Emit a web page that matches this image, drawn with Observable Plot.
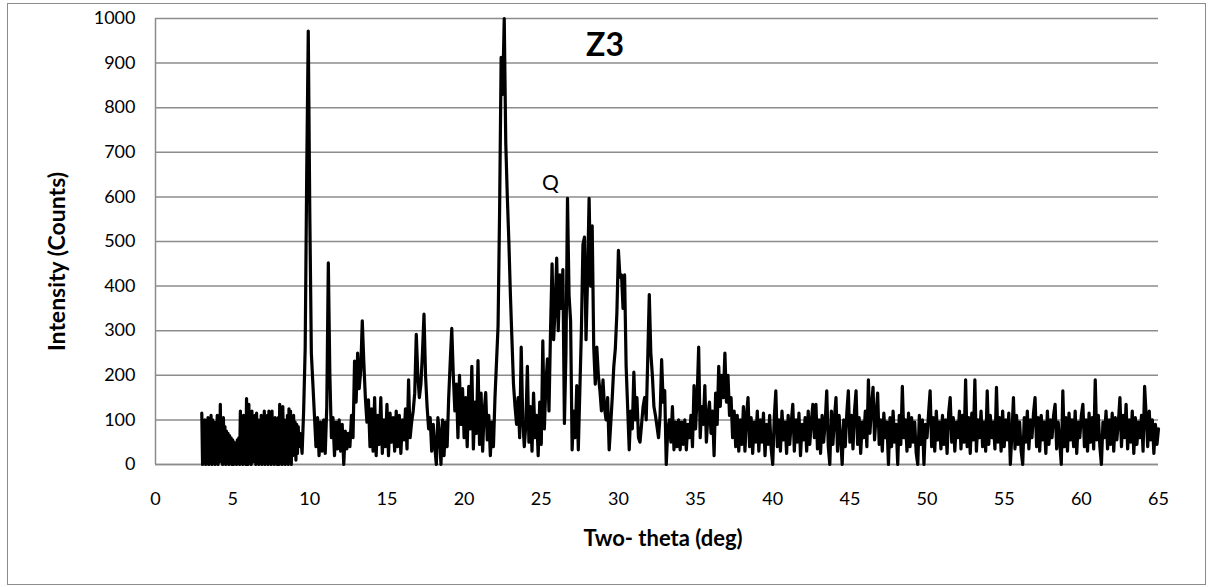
<!DOCTYPE html>
<html><head><meta charset="utf-8">
<script src="https://cdn.jsdelivr.net/npm/d3@7"></script>
<script src="https://cdn.jsdelivr.net/npm/@observablehq/plot@0.6"></script>
<style>
html,body{margin:0;padding:0;background:#fff;}
#chart{position:relative;width:1208px;height:587px;overflow:hidden;}
#border{position:absolute;left:7px;top:3px;width:1199px;height:582px;border:1.5px solid #8c8c8c;box-sizing:border-box;pointer-events:none;}
</style></head><body><div id="chart"><div id="border"></div></div>
<script>
// Low-angle segment (dense noise), two-theta 3.00 ... 9.45 deg
const lowStart = 3.0;
const lowStep = 0.05;
const lowIntensity = [
/* 3.0 */ 115,0,95,10,100,0,80,5,105,0,
/* 3.5 */ 90,15,110,0,100,20,95,0,85,10,
/* 4.0 */ 110,0,100,5,135,10,90,0,105,20,
/* 4.5 */ 85,0,75,10,70,0,65,5,60,0,
/* 5.0 */ 55,0,50,10,45,0,55,5,60,0,
/* 5.5 */ 120,10,100,0,110,15,90,0,148,20,
/* 6.0 */ 0,135,10,105,0,120,5,100,15,110,
/* 6.5 */ 0,115,10,100,0,95,20,110,0,95,
/* 7.0 */ 20,120,0,105,10,110,0,120,15,100,
/* 7.5 */ 0,120,10,90,0,105,25,95,0,105,
/* 8.0 */ 0,135,15,110,0,130,10,100,0,95,
/* 8.5 */ 15,110,0,125,10,120,0,105,20,110,
/* 9.0 */ 30,95,10,90,25,85,40,70,60,45
];
// Main segment, two-theta 9.5 ... 65.0 deg, one row per degree (x.0 ... x.9)
const mainStart = 9.5;
const mainStep = 0.1;
const intensity = [
/* 9.5*/ 25,120,260,655,972,
/*10 */ 560,250,180,110,40,105,20,95,30,100,
/*11 */ 25,130,452,200,60,105,20,95,35,100,
/*12 */ 30,90,0,75,35,70,40,110,60,232,
/*13 */ 140,250,170,210,322,230,150,95,145,40,
/*14 */ 125,30,150,20,110,45,150,25,100,40,
/*15 */ 135,20,115,50,105,30,120,40,110,25,
/*16 */ 100,55,125,35,190,60,95,120,160,292,
/*17 */ 200,150,180,250,337,200,130,80,105,30,
/*18 */ 90,40,0,105,70,0,100,20,95,40,
/*19 */ 150,230,305,200,120,180,60,200,90,170,
/*20 */ 60,150,40,175,80,220,35,140,70,233,
/*21 */ 45,160,30,120,161,55,110,20,95,40,
/*22 */ 150,230,310,570,913,830,1000,720,600,500,
/*23 */ 380,280,180,130,90,150,60,263,100,40,
/*24 */ 90,220,50,130,30,160,60,110,20,140,
/*25 */ 45,277,80,180,237,120,300,450,280,350,
/*26 */ 463,300,425,350,437,92,250,597,380,322,
/*27 */ 33,120,60,177,33,166,300,493,510,280,
/*28 */ 420,597,400,535,263,180,263,200,166,120,
/*29 */ 190,126,100,150,33,90,150,220,260,340,
/*30 */ 480,420,425,350,425,220,126,33,120,80,
/*31 */ 207,100,150,60,50,90,130,150,100,237,
/*32 */ 381,250,200,130,110,85,60,110,235,140,
/*33 */ 166,0,80,100,50,130,33,95,40,100,
/*34 */ 33,95,45,100,33,90,60,110,40,177,
/*35 */ 80,150,263,60,130,90,177,50,110,140,
/*36 */ 70,120,20,160,90,220,130,200,150,250,
/*37 */ 140,200,110,150,60,120,40,110,30,100,
/*38 */ 45,130,30,110,150,40,105,25,95,50,
/*39 */ 120,30,100,50,115,20,90,45,110,35,
/*40 */ 0,105,165,40,100,30,120,55,95,25,
/*41 */ 110,45,95,135,30,100,50,115,20,90,
/*42 */ 55,105,30,120,45,95,135,60,135,35,
/*43 */ 100,25,110,50,95,165,40,0,120,45,
/*44 */ 105,150,30,110,60,0,100,40,115,165,
/*45 */ 50,110,35,120,165,45,105,25,95,60,
/*46 */ 120,40,190,70,130,173,55,110,160,45,
/*47 */ 100,30,115,60,95,0,105,40,120,50,
/*48 */ 90,0,110,45,175,60,100,30,115,40,
/*49 */ 105,50,95,25,0,110,45,100,0,90,
/*50 */ 60,115,165,40,105,30,120,55,95,35,
/*51 */ 110,45,100,25,115,150,50,105,30,95,
/*52 */ 60,120,35,110,50,190,40,105,25,115,
/*53 */ 55,190,30,100,60,120,40,95,30,165,
/*54 */ 45,110,60,95,35,173,50,105,30,120,
/*55 */ 40,100,55,115,0,70,150,35,110,45,
/*56 */ 95,30,0,105,50,120,35,100,60,115,
/*57 */ 150,40,105,30,110,55,95,25,120,45,
/*58 */ 100,60,110,135,35,95,50,0,165,40,
/*59 */ 105,30,115,55,100,40,120,25,95,60,
/*60 */ 110,135,40,100,30,115,50,105,35,190,
/*61 */ 55,110,40,0,95,60,120,35,100,45,
/*62 */ 115,30,105,55,95,150,40,110,60,135,
/*63 */ 35,100,50,120,25,105,45,95,60,110,
/*64 */ 30,175,110,40,120,55,100,25,90,45,
/*65 */ 80
];
const xTicks = [0,5,10,15,20,25,30,35,40,45,50,55,60,65];
const yTicks = [0,100,200,300,400,500,600,700,800,900,1000];
const chartTitle = ["Z3"];
const xTitle = ["Two- theta (deg)"];
const yTitle = ["Intensity (Counts)"];
const annotations = [{t: 25.6, v: 630, label: "Q"}];

const data = [
  ...lowIntensity.map((v, i) => ({t: +(lowStart + i * lowStep).toFixed(2), v})),
  ...intensity.map((v, i) => ({t: +(mainStart + i * mainStep).toFixed(2), v}))
];

const grey = "#8c8c8c";
const chart = Plot.plot({
  width: 1208,
  height: 587,
  marginLeft: 155,
  marginRight: 50,
  marginTop: 18,
  marginBottom: 123,
  style: {fontFamily: "Lato, 'Open Sans', sans-serif", color: "black", background: "transparent", overflow: "visible"},
  x: {domain: [0, 65], label: null},
  y: {domain: [0, 1000], label: null},
  marks: [
    Plot.gridY(yTicks, {stroke: grey, strokeOpacity: 1, strokeWidth: 1.5}),
    Plot.ruleX([0], {stroke: grey, strokeWidth: 1.5}),
    Plot.ruleY([0], {stroke: grey, strokeWidth: 1.5}),
    Plot.line(data, {x: "t", y: "v", stroke: "black", strokeWidth: 3.2}),
    Plot.axisX(xTicks, {tickSize: 0, tickPadding: 28, fontSize: 18, tickFormat: d3.format("d"), label: null}),
    Plot.axisY(yTicks, {tickSize: 0, tickPadding: 20, fontSize: 18, tickFormat: d3.format("d"), label: null}),
    Plot.text(chartTitle, {frameAnchor: "top", dx: -52, dy: 15, fontSize: 32, fontWeight: "bold"}),
    Plot.text(xTitle, {frameAnchor: "bottom", dx: 6, dy: 81, fontSize: 22, fontWeight: "bold"}),
    Plot.text(yTitle, {frameAnchor: "left", textAnchor: "middle", dx: -98, dy: 20, rotate: -90, fontSize: 23, fontWeight: "bold"}),
    Plot.text(annotations, {x: "t", y: "v", text: "label", fontSize: 21})
  ]
});
document.getElementById("chart").appendChild(chart);
</script>
</body></html>
